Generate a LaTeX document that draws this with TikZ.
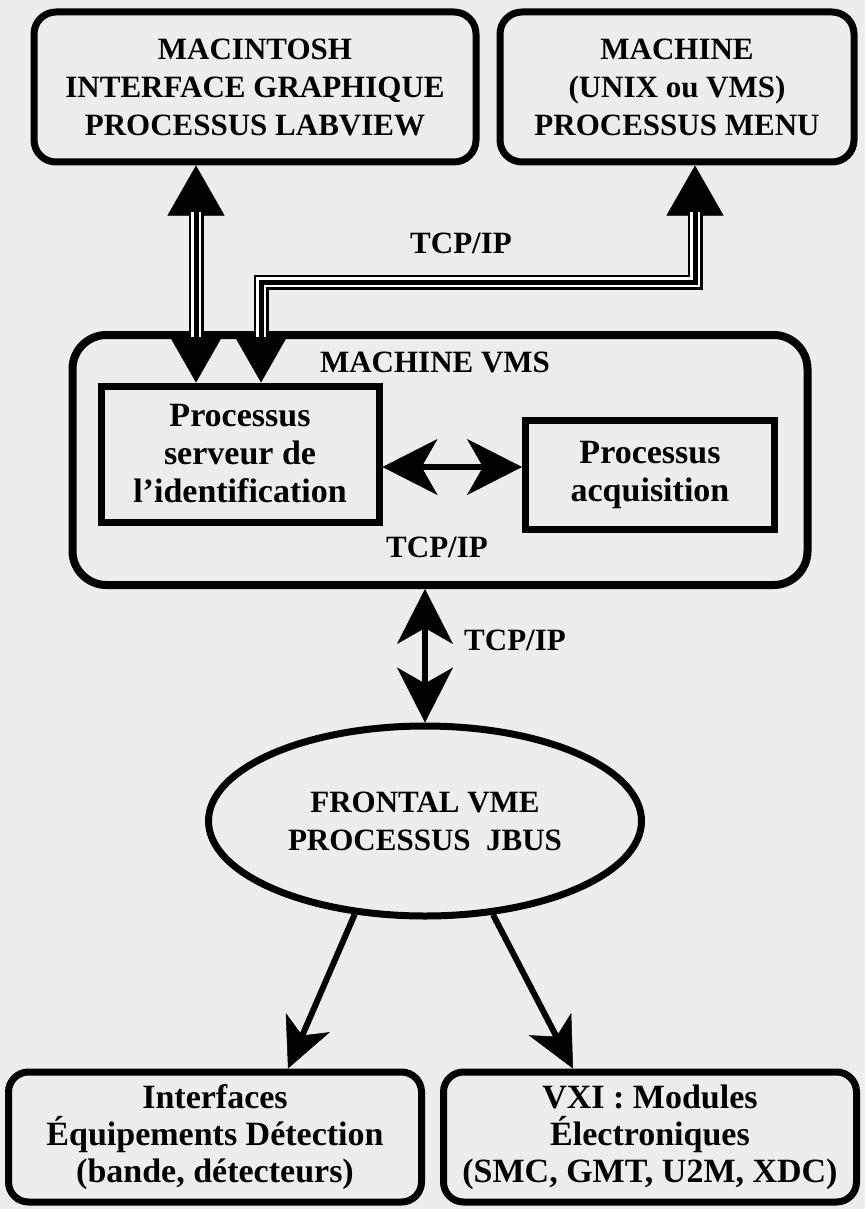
\documentclass[tikz,border=0pt]{standalone}
\usepackage{fontspec}
\setmainfont{Liberation Serif}
\usepackage{tikz}
\usetikzlibrary{shapes.geometric, positioning, arrows.meta, calc}

\definecolor{paper}{RGB}{236,238,237}
\newcommand{\bigtxt}{\fontsize{31}{38}\selectfont\bfseries}
\newcommand{\boxtxt}{\fontsize{34}{37}\selectfont\bfseries}
\newcommand{\proctxt}{\fontsize{34}{38}\selectfont\bfseries}

\begin{document}
\begin{tikzpicture}[x=1pt, y=-1pt,
  box/.style={draw,line width=7pt,rounded corners=22pt,align=center,inner sep=0pt,font=\bigtxt},
  vmsbox/.style={draw,line width=8pt,rounded corners=34pt,inner sep=0pt},
  procbox/.style={draw,line width=7pt,align=center,inner sep=0pt,font=\proctxt},
  lbl/.style={font=\bigtxt,inner sep=0pt},
  dbl/.style={line width=5.5pt,{Stealth[length=55pt,width=56pt,inset=16pt,line width=0.5pt]}-{Stealth[length=55pt,width=56pt,inset=16pt,line width=0.5pt]}},
  arr/.style={line width=6pt,-{Stealth[length=50pt,width=48pt,inset=14pt,line width=0.5pt]}},
  tcp/.style={line width=15pt,
    {Triangle[length=50pt,width=57pt,line width=0.5pt]}-{Triangle[length=50pt,width=57pt,line width=0.5pt]},
    postaction={draw=white,line width=10pt,-,shorten <=46pt,shorten >=46pt},
    postaction={draw=black,line width=5pt,-,shorten <=46pt,shorten >=46pt}}]

  \fill[paper] (0,0) rectangle (865,1209);
  \useasboundingbox (0,0) rectangle (865,1209);

  % machines du haut
  \node[box,minimum width=442pt,minimum height=150pt] (mac) at (255,87)
    {MACINTOSH\\INTERFACE GRAPHIQUE\\PROCESSUS LABVIEW};
  \node[box,minimum width=354pt,minimum height=150pt] (menu) at (677,87)
    {MACHINE\\(UNIX ou VMS)\\PROCESSUS MENU};

  % machine VMS et ses processus
  \node[vmsbox,minimum width=735pt,minimum height=250pt] (vms) at (440,460) {};
  \node[lbl] (vmstitle) at (435,362) {MACHINE VMS};
  \node[procbox,minimum width=278pt,minimum height=136pt] (serv) at (240,454)
    {Processus\\serveur de\\l'identification};
  \node[procbox,minimum width=249pt,minimum height=109pt] (acq) at (650,475)
    {Processus\\acquisition};

  % frontal et equipements
  \node[ellipse,draw,line width=7pt,minimum width=433pt,minimum height=190pt,
        align=center,inner sep=0pt,font=\bigtxt] (front) at (425,821)
    {FRONTAL VME\\PROCESSUS\ \ JBUS};
  \node[box,font=\boxtxt,rounded corners=20pt,minimum width=413pt,minimum height=130pt] (intf) at (215,1137)
    {Interfaces\\Équipements Détection\\(bande, détecteurs)};
  \node[box,font=\boxtxt,rounded corners=20pt,minimum width=413pt,minimum height=130pt] (vxi) at (650,1137)
    {VXI : Modules\\Électroniques\\(SMC, GMT, U2M, XDC)};

  \node[lbl] (tcpa) at (461,243) {TCP/IP};
  \node[lbl] (tcpb) at (437,547) {TCP/IP};
  \node[lbl] (tcpc) at (515,640) {TCP/IP};

  \coordinate (lx) at (196,0);
  \coordinate (bend) at (261,282);
  \coordinate (rx) at (695,0);
  \coordinate (hy) at (0,467);
  \coordinate (la) at (288,0);
  \coordinate (ra) at (573,0);

  \draw[tcp] (mac.south -| lx) -- (serv.north -| lx);
  \draw[tcp] (serv.north -| bend) -- (bend) -| (menu.south -| rx);
  \draw[dbl] (serv.east |- hy) -- (acq.west |- hy);
  \draw[dbl] (vms.south -| front.north) -- (front.north);
  \draw[arr] (front.-127) -- (intf.north -| la);
  \draw[arr] (front.-54) -- (vxi.north -| ra);
\end{tikzpicture}
\end{document}
